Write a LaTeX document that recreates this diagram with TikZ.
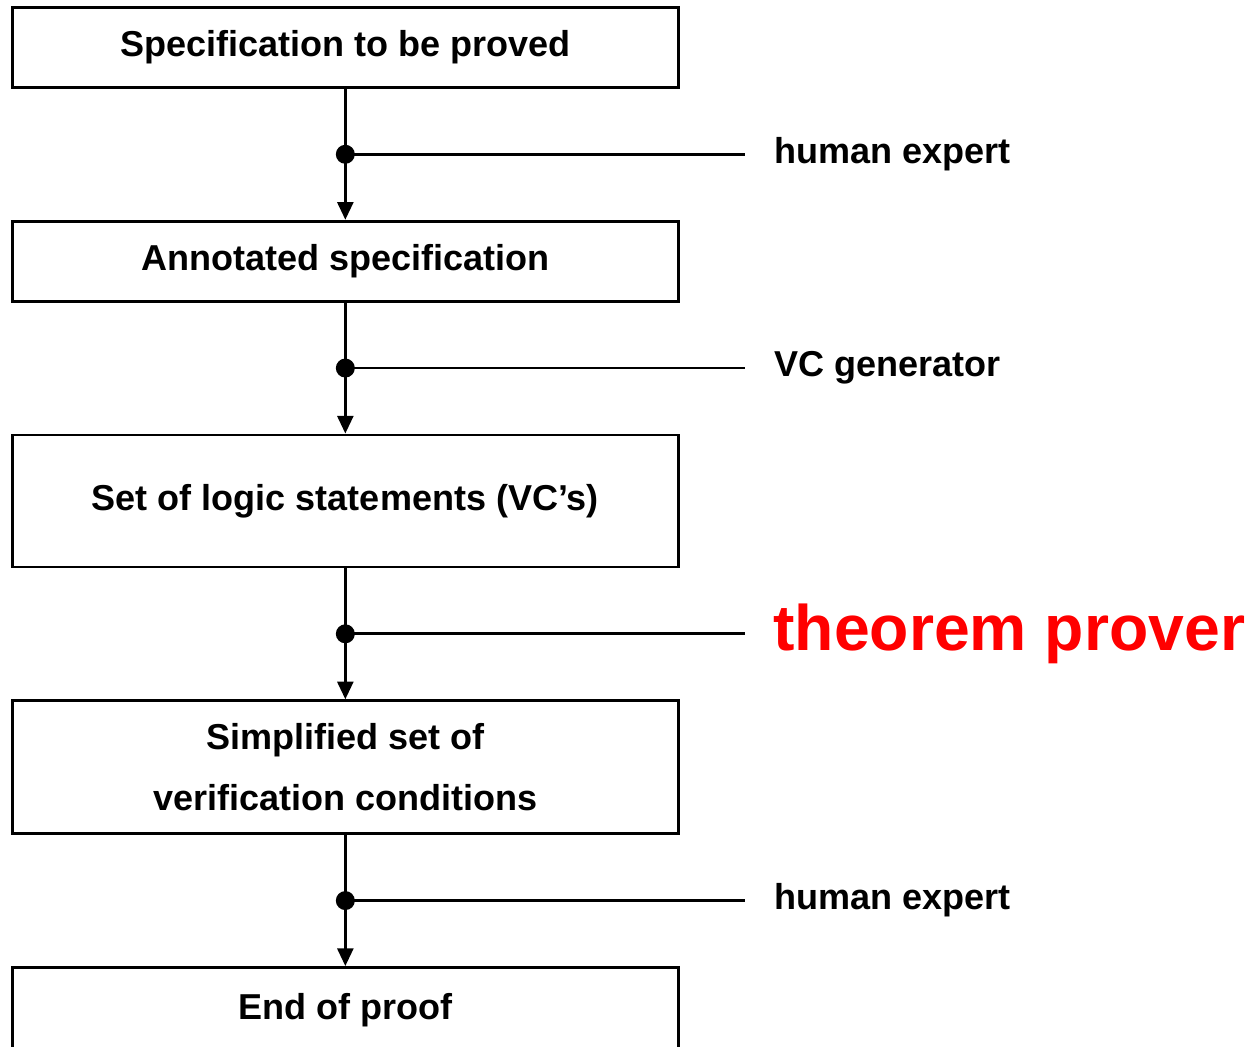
\documentclass[tikz,border=0pt]{standalone}
\usepackage{fontspec}
\setmainfont{Liberation Sans}
\usetikzlibrary{arrows.meta}
\usetikzlibrary{positioning}
\tikzstyle{stage}=[draw,line width=1.6pt,minimum width=13.32cm,minimum height=1.6cm,align=center,font=\fontsize{20.5}{35}\selectfont\bfseries]
\tikzstyle{tool}=[anchor=west,inner xsep=0pt,font=\fontsize{20.5}{24}\selectfont\bfseries]

\begin{document}
\begin{tikzpicture}[x=0.02cm,y=-0.02cm,node distance=2.62cm,line width=1.6pt,>={Triangle[length=10pt,width=9pt]}]
\tikzstyle{junction}=[circle,fill=black,inner sep=0pt,minimum size=0.38cm]
\useasboundingbox (0,0) rectangle (1249,1046);
\node [stage,anchor=north west] (spec) at (11,6) {Specification to be proved};
\node [stage,below=of spec] (annot) {Annotated specification};
\node [stage,below=of annot,minimum height=2.64cm] (vcs) {Set of logic statements (VC's)};
\node [stage,below=of vcs,minimum height=2.66cm] (simp) {Simplified set of\\verification conditions};
\node [stage,below=of simp,minimum height=1.72cm] (done) {End of proof};
% steps and the tool used at each one
\draw [->] (spec) -- (annot) coordinate[midway] (j1);
\draw [->] (annot) -- (vcs) coordinate[midway] (j2);
\draw [->] (vcs) -- (simp) coordinate[midway] (j3);
\draw [->] (simp) -- (done) coordinate[midway] (j4);
\node [junction] (d1) at (j1) {};
\node [junction] (d2) at (j2) {};
\node [junction] (d3) at (j3) {};
\node [junction] (d4) at (j4) {};
\node [tool] (t1) at (773,0 |- d1) {human expert};
\node [tool] (t2) at (773,0 |- d2) {VC generator};
\node [tool,text=red,font=\fontsize{36.6}{40}\selectfont\bfseries] (t3) at (772,0 |- d3) {theorem prover};
\node [tool] (t4) at (773,0 |- d4) {human expert};
\draw [shorten >=0.56cm] (d1.center) -- (t1);
\draw [shorten >=0.56cm] (d2.center) -- (t2);
\draw [shorten >=0.54cm] (d3.center) -- (t3);
\draw [shorten >=0.56cm] (d4.center) -- (t4);
\end{tikzpicture}
\end{document}
